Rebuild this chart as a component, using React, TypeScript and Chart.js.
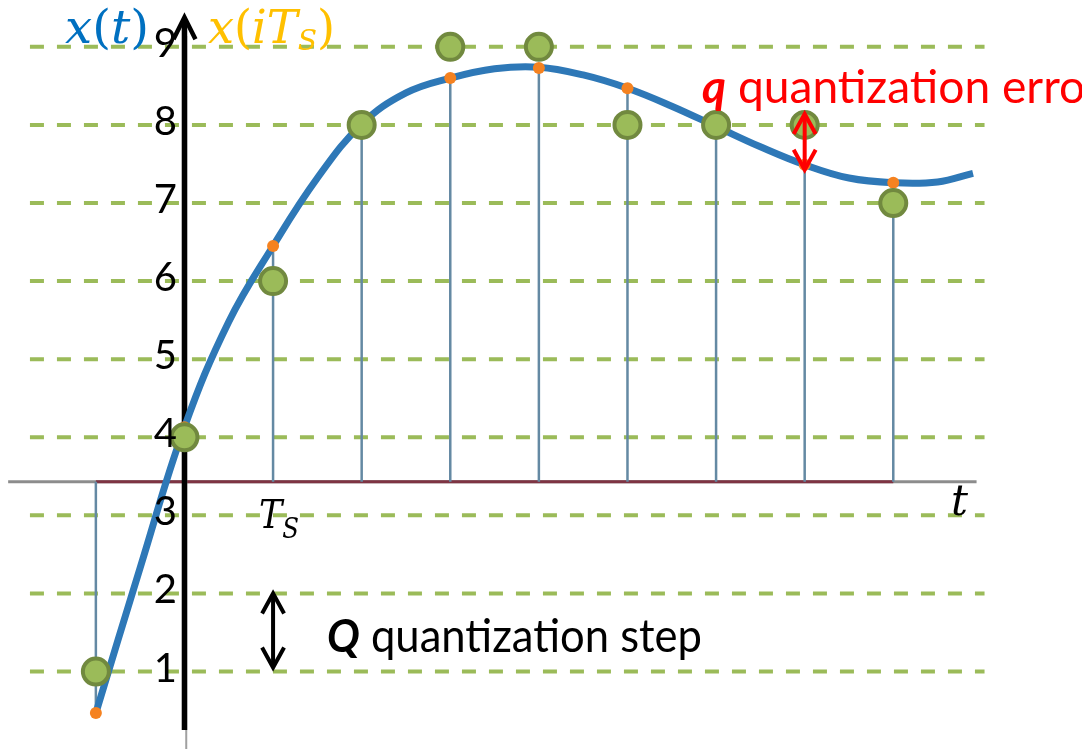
import React, { useEffect, useRef } from 'react';
import { Chart, registerables } from 'chart.js';

Chart.register(...registerables);

// ---- data ----
const sampleT = [-1, 0, 1, 2, 3, 4, 5, 6, 7, 8];
const sampleV = [0.47, 4.13, 6.45, 8.0, 8.6, 8.73, 8.47, 7.97, 7.49, 7.26];
const quantV = [1, 4, 6, 8, 9, 9, 8, 8, 8, 7];
const levels = [1, 2, 3, 4, 5, 6, 7, 8, 9];
const levelLabels = ['1', '2', '3', '4', '5', '6', '7', '8', '9'];
const curveT = [-1, -0.5, 0, 0.5, 1, 1.5, 2, 2.5, 3, 3.5, 4, 4.5, 5, 5.5, 6, 6.5, 7, 7.5, 8, 8.5, 8.9];
const curveV = [0.47, 2.33, 4.13, 5.48, 6.45, 7.32, 8.01, 8.41, 8.6, 8.72, 8.74, 8.64, 8.47, 8.24, 7.98, 7.72, 7.49, 7.32, 7.26, 7.27, 7.38];

// ---- scale ranges / extents ----
const X_MIN = -2.082;
const X_MAX = 10.13;
const Y_MIN = 0.008;
const Y_MAX = 9.6;
const AXIS_BASE = 3.43;
const DASH_FROM = -1.744;
const DASH_TO = 9.03;
const HAXIS_FROM = -1.99;
const HAXIS_TO = 8.94;
const VAXIS_BOTTOM = 0.25;
const VAXIS_TOP = 9.34;
const ERROR_INDEX = 8; // t = 7
const STEP_INDEX = 2; // t = 1

type Run = { text: string; font: string; color: string; dy?: number; w?: number };

function drawRuns(ctx: CanvasRenderingContext2D, runs: Run[], x: number, y: number, targetW?: number) {
  let total = 0;
  runs.forEach((r) => {
    ctx.font = r.font;
    r.w = ctx.measureText(r.text).width;
    total += r.w;
  });
  const sx = targetW ? targetW / total : 1;
  ctx.save();
  ctx.translate(x, y);
  ctx.scale(sx, 1);
  ctx.textAlign = 'left';
  ctx.textBaseline = 'alphabetic';
  let cx = 0;
  runs.forEach((r) => {
    ctx.font = r.font;
    ctx.fillStyle = r.color;
    ctx.fillText(r.text, cx, r.dy || 0);
    cx += r.w || 0;
  });
  ctx.restore();
}

function chevron(ctx: CanvasRenderingContext2D, x: number, tipY: number, half: number, depth: number, dir: number) {
  ctx.beginPath();
  ctx.moveTo(x - half, tipY + dir * depth);
  ctx.lineTo(x, tipY);
  ctx.lineTo(x + half, tipY + dir * depth);
  ctx.stroke();
}

function doubleArrow(ctx: CanvasRenderingContext2D, x: number, top: number, bottom: number, color: string) {
  ctx.save();
  ctx.strokeStyle = color;
  ctx.lineWidth = 4;
  ctx.lineCap = 'butt';
  ctx.lineJoin = 'miter';
  ctx.beginPath();
  ctx.moveTo(x, top + 2);
  ctx.lineTo(x, bottom - 2);
  ctx.stroke();
  chevron(ctx, x, top, 11, 20, 1);
  chevron(ctx, x, bottom, 11, 20, -1);
  ctx.restore();
}

const decorPlugin = {
  id: 'decor',
  afterDatasetsDraw(chart: any) {
    const ctx: CanvasRenderingContext2D = chart.ctx;
    const xs = chart.scales.x;
    const ys = chart.scales.y;

    // arrow head of vertical axis
    ctx.save();
    ctx.strokeStyle = '#000';
    ctx.lineWidth = 4.5;
    ctx.lineJoin = 'miter';
    chevron(ctx, xs.getPixelForValue(0), ys.getPixelForValue(VAXIS_TOP) - 3, 11, 22, 1);
    ctx.restore();

    // level labels
    ctx.save();
    ctx.font = '40px Lato';
    ctx.fillStyle = '#000';
    ctx.textAlign = 'right';
    ctx.textBaseline = 'alphabetic';
    levels.forEach((L, i) => {
      ctx.fillText(levelLabels[i], 177, ys.getPixelForValue(L) + 10);
    });
    ctx.restore();

    // titles
    const math = 'italic 46px "DejaVu Serif"';
    const mathUp = '46px "DejaVu Serif"';
    drawRuns(ctx, [
      { text: 'x', font: math, color: '#0070C0' },
      { text: '(', font: mathUp, color: '#0070C0' },
      { text: 't', font: math, color: '#0070C0' },
      { text: ')', font: mathUp, color: '#0070C0' },
    ], 65, 43, 84);
    drawRuns(ctx, [
      { text: 'x', font: math, color: '#FFC000' },
      { text: '(', font: mathUp, color: '#FFC000' },
      { text: 'i', font: math, color: '#FFC000' },
      { text: 'T', font: math, color: '#FFC000' },
      { text: 'S', font: 'italic 28px "DejaVu Serif"', color: '#FFC000', dy: 7 },
      { text: ')', font: mathUp, color: '#FFC000' },
    ], 208, 43, 127);

    // T_S tick
    drawRuns(ctx, [
      { text: 'T', font: 'italic 40px "DejaVu Serif"', color: '#000' },
      { text: 'S', font: 'italic 28px "DejaVu Serif"', color: '#000', dy: 10 },
    ], 259, 528, 40);
    // t label
    drawRuns(ctx, [{ text: 't', font: 'italic 42px "DejaVu Serif"', color: '#000' }], 951, 515, 17);

    // quantization step
    drawRuns(ctx, [
      { text: 'Q', font: 'italic bold 46px Lato', color: '#000' },
      { text: ' quantization step', font: '46px Lato', color: '#000' },
    ], 327, 652, 375);
    drawRuns(ctx, [
      { text: 'q', font: 'italic bold 46px Lato', color: '#FF0000' },
      { text: ' quantization error', font: '46px Lato', color: '#FF0000' },
    ], 702, 103, 400);

    // arrows
    const qx = xs.getPixelForValue(sampleT[STEP_INDEX]);
    doubleArrow(ctx, qx, ys.getPixelForValue(levels[1]), ys.getPixelForValue(levels[0]) - 4, '#000');
    const ex = xs.getPixelForValue(sampleT[ERROR_INDEX]);
    doubleArrow(ctx, ex, ys.getPixelForValue(quantV[ERROR_INDEX]) - 11, ys.getPixelForValue(sampleV[ERROR_INDEX]) + 5, '#FF0000');
  },
};

export default function App() {
  const ref = useRef<HTMLCanvasElement>(null);

  useEffect(() => {
    const canvas = ref.current;
    if (!canvas) return;
    const datasets: any[] = [];

    levels.forEach((L) => {
      datasets.push({
        data: [{ x: DASH_FROM, y: L }, { x: DASH_TO, y: L }],
        showLine: true,
        borderColor: '#9BBB59',
        borderWidth: 4,
        borderDash: [14, 13],
        borderCapStyle: 'butt',
        pointRadius: 0,
        order: 20,
      });
    });

    datasets.push({
      data: [{ x: HAXIS_FROM, y: AXIS_BASE }, { x: HAXIS_TO, y: AXIS_BASE }],
      showLine: true,
      borderColor: '#8C8C8C',
      borderWidth: 3,
      pointRadius: 0,
      order: 12,
    });
    datasets.push({
      data: [{ x: sampleT[0], y: AXIS_BASE }, { x: sampleT[sampleT.length - 1], y: AXIS_BASE }],
      showLine: true,
      borderColor: '#7E3443',
      borderWidth: 3,
      pointRadius: 0,
      order: 11,
    });
    const stems: any[] = [];
    sampleT.forEach((t, i) => {
      stems.push({ x: t, y: AXIS_BASE }, { x: t, y: sampleV[i] }, { x: t, y: null });
    });
    datasets.push({
      data: stems,
      showLine: true,
      spanGaps: false,
      borderColor: '#6489A3',
      borderWidth: 2.5,
      pointRadius: 0,
      order: 10,
    });
    datasets.push({
      data: [{ x: 0.02, y: Y_MIN }, { x: 0.02, y: VAXIS_TOP - 0.2 }],
      showLine: true,
      borderColor: '#A0A0A0',
      borderWidth: 2,
      pointRadius: 0,
      order: 9,
    });
    datasets.push({
      data: [{ x: 0, y: VAXIS_BOTTOM }, { x: 0, y: VAXIS_TOP }],
      showLine: true,
      borderColor: '#000000',
      borderWidth: 5.5,
      pointRadius: 0,
      order: 8,
    });
    datasets.push({
      data: curveT.map((t, i) => ({ x: t, y: curveV[i] })),
      showLine: true,
      borderColor: '#2E78B7',
      borderWidth: 7,
      borderCapStyle: 'butt',
      borderJoinStyle: 'round',
      tension: 0.4,
      pointRadius: 0,
      order: 5,
    });
    datasets.push({
      data: sampleT.map((t, i) => ({ x: t, y: sampleV[i] })),
      showLine: false,
      pointRadius: 6,
      pointBackgroundColor: '#F58220',
      pointBorderWidth: 0,
      order: 4,
    });
    datasets.push({
      data: sampleT.map((t, i) => ({ x: t, y: quantV[i] })),
      showLine: false,
      pointRadius: 13,
      pointBackgroundColor: '#9BBB59',
      pointBorderColor: '#71893F',
      pointBorderWidth: 4,
      order: 3,
    });

    const chart = new Chart(canvas, {
      type: 'scatter',
      data: { datasets },
      options: {
        responsive: false,
        animation: false,
        events: [],
        layout: { padding: 0, autoPadding: false },
        plugins: { legend: { display: false }, tooltip: { enabled: false } },
        scales: {
          x: { type: 'linear', min: X_MIN, max: X_MAX, display: false },
          y: { type: 'linear', min: Y_MIN, max: Y_MAX, display: false },
        },
      },
      plugins: [decorPlugin],
    } as any);

    return () => chart.destroy();
  }, []);

  return (
    <div style={{ position: 'absolute', left: 0, top: 0, width: 1082, height: 749, background: '#ffffff', overflow: 'hidden' }}>
      <canvas ref={ref} width={1082} height={749} style={{ display: 'block', width: 1082, height: 749 }} />
    </div>
  );
}
